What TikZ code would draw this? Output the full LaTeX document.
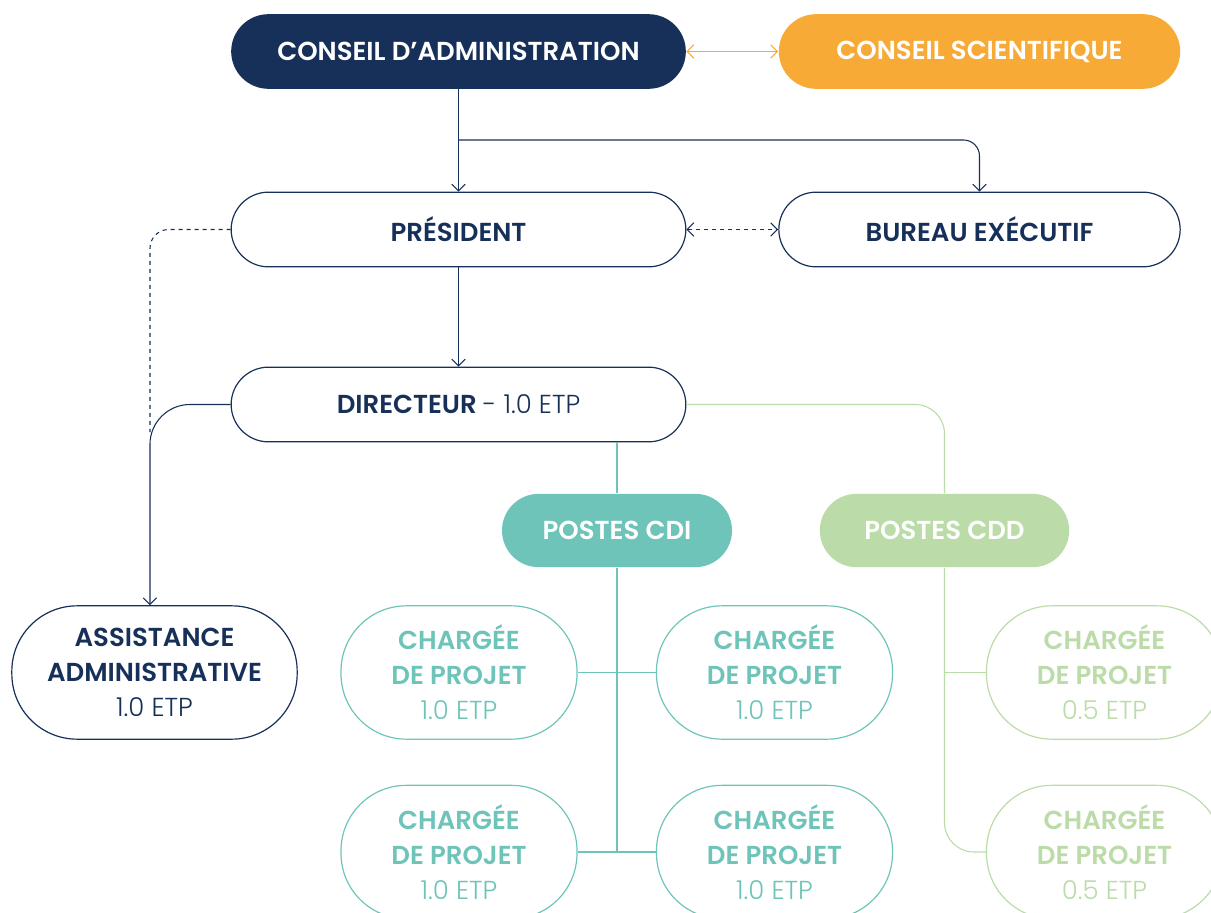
\documentclass[tikz,border=0pt]{standalone}
\usepackage{fontspec}
\setmainfont{Poppins}[BoldFont={Poppins SemiBold}]
\newfontfamily\lightfont{Poppins Light}
\usepackage{xcolor}
\usepackage{tikz}
\usetikzlibrary{arrows.meta}

\definecolor{navy}{HTML}{17305A}
\definecolor{orangecs}{HTML}{F8AA36}
\definecolor{tealcdi}{HTML}{6EC4B9}
\definecolor{greencdd}{HTML}{BBDBA8}

\tikzset{
  pill/.style={rectangle, inner sep=0pt, align=center, line width=0.9pt,
    font=\bfseries\fontsize{19.5}{26.3}\selectfont},
  widepill/.style={pill, minimum width=341pt, minimum height=56pt, rounded corners=28pt},
  sidepill/.style={pill, minimum width=301pt, minimum height=56pt, rounded corners=28pt},
  postepill/.style={pill, minimum height=55pt, rounded corners=27.5pt, text=white},
  jobpill/.style={pill, minimum width=177pt, minimum height=100pt, rounded corners=49pt},
  link/.style={line width=0.8pt, -{Straight Barb[length=5pt,width=10pt]}},
}
\newcommand{\etp}[1]{{\lightfont\mdseries #1}}

\begin{document}
\begin{tikzpicture}[x=0.75pt,y=0.75pt,yscale=-1,xscale=1]
\useasboundingbox (0,0) rectangle (1211,913);

% Text Node
\node (ca) at (458.5,51.5) [widepill, fill=navy, text=white] {CONSEIL D’ADMINISTRATION};
% Text Node
\node (cs) at (979.5,51.5) [sidepill, fill=orangecs, text=white] {CONSEIL SCIENTIFIQUE};
% Text Node
\node (pres) at (458.5,229.5) [widepill, draw=navy, text=navy] {PRÉSIDENT};
% Text Node
\node (bur) at (979.5,229.5) [sidepill, draw=navy, text=navy] {BUREAU EXÉCUTIF};
% Text Node
\node (dir) at (458.5,404.5) [widepill, draw=navy, text=navy] {DIRECTEUR \etp{- 1.0 ETP}};
% Text Node
\node (asst) at (154.5,672.5) [jobpill, minimum width=214pt, draw=navy, text=navy] {ASSISTANCE\\ADMINISTRATIVE\\\etp{1.0 ETP}};

% Text Node
\node (cdi) at (617,530.5) [postepill, minimum width=172.5pt, fill=tealcdi] {POSTES CDI};
% Text Node
\node (cdd) at (944.5,530.5) [postepill, minimum width=187pt, fill=greencdd] {POSTES CDD};

% Text Node
\node (cdia) at (459,672.5) [jobpill, draw=tealcdi, text=tealcdi] {CHARGÉE\\DE PROJET\\\etp{1.0 ETP}};
% Text Node
\node (cdib) at (774.5,672.5) [jobpill, draw=tealcdi, text=tealcdi] {CHARGÉE\\DE PROJET\\\etp{1.0 ETP}};
% Text Node
\node (cdic) at (459,852) [jobpill, draw=tealcdi, text=tealcdi] {CHARGÉE\\DE PROJET\\\etp{1.0 ETP}};
% Text Node
\node (cdid) at (774.5,852) [jobpill, draw=tealcdi, text=tealcdi] {CHARGÉE\\DE PROJET\\\etp{1.0 ETP}};
% Text Node
\node (cdda) at (1104.5,672.5) [jobpill, draw=greencdd, text=greencdd] {CHARGÉE\\DE PROJET\\\etp{0.5 ETP}};
% Text Node
\node (cddb) at (1104.5,852) [jobpill, draw=greencdd, text=greencdd] {CHARGÉE\\DE PROJET\\\etp{0.5 ETP}};

\coordinate (split) at (458.5,140);
\coordinate (dashend) at (150,432);

%Straight Lines
\draw [link, orangecs, {Straight Barb[length=5pt,width=10pt]}-{Straight Barb[length=5pt,width=10pt]}] (ca) -- (cs);
%Straight Lines
\draw [link, navy] (ca) -- (pres);
%Straight Lines
\draw [link, navy, rounded corners=12pt] (split) -| (bur);
%Straight Lines
\draw [link, navy, dashed, {Straight Barb[length=5pt,width=10pt]}-{Straight Barb[length=5pt,width=10pt]}] (pres) -- (bur);
%Straight Lines
\draw [link, navy] (pres) -- (dir);
%Straight Lines
\draw [line width=0.8pt, navy, dashed, rounded corners=14pt] (pres.west) -| (dashend);
%Straight Lines
\draw [link, navy, rounded corners=30pt] (dir.west) -| ([xshift=-3.4pt]asst.north);

%Straight Lines
\draw [line width=0.8pt, tealcdi] (cdi.north |- dir.south) -- (cdi.north);
\draw [line width=0.8pt, tealcdi] (cdi.south) -- (cdi.south |- cdic.east);
\draw [line width=0.8pt, tealcdi] (cdia.east) -- (cdib.west);
\draw [line width=0.8pt, tealcdi] (cdic.east) -- (cdid.west);

%Straight Lines
\draw [line width=0.8pt, greencdd, rounded corners=22pt] (dir.east) -| (cdd.north);
\draw [line width=0.8pt, greencdd, rounded corners=22pt] (cdd.south) |- (cddb.west);
\draw [line width=0.8pt, greencdd] (cdd.south |- cdda.west) -- (cdda.west);
\end{tikzpicture}
\end{document}
